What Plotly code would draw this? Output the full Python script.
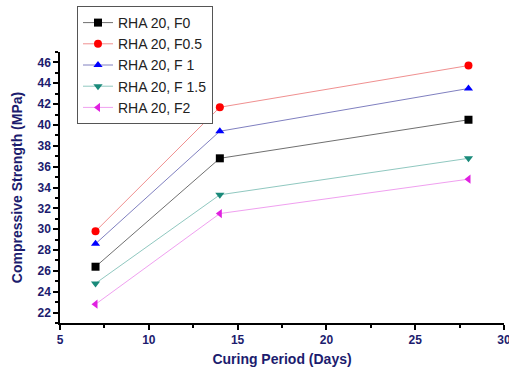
import plotly.graph_objects as go

days = [7, 14, 28]
names = ["RHA 20, F0", "RHA 20, F0.5", "RHA 20, F 1", "RHA 20, F 1.5", "RHA 20, F2"]
f0 = [26.4, 36.8, 40.5]
f05 = [29.8, 41.7, 45.7]
f1 = [28.6, 39.4, 43.5]
f15 = [24.8, 33.3, 36.8]
f2 = [22.8, 31.5, 34.8]
x_ticks = [5, 10, 15, 20, 25, 30]
y_ticks = [22, 24, 26, 28, 30, 32, 34, 36, 38, 40, 42, 44, 46]

series = [f0, f05, f1, f15, f2]
mcolors = ["#000000", "#ff0000", "#0000ff", "#1a8a7a", "#e020e0"]
lcolors = ["#707070", "#f09090", "#8080c0", "#90c8c0", "#f0a0f0"]
symbols = ["square", "circle", "triangle-up", "triangle-down", "triangle-left"]

fig = go.Figure()
for n, v, mc, lc, s in zip(names, series, mcolors, lcolors, symbols):
    fig.add_trace(go.Scatter(
        x=days, y=v, name=n, mode="lines+markers",
        line=dict(color=lc, width=1),
        marker=dict(color=mc, symbol=s, size=8),
    ))

navy = "#1c1c6e"
tfont = dict(size=12, color=navy, family="Arial, Liberation Sans", weight="bold")
L, R, T, B = 60, 5, 52, 44
W, H = 509, 367
pw, ph = W - L - R, H - T - B
fig.update_layout(
    width=W, height=H,
    margin=dict(l=L, r=R, t=T, b=B, autoexpand=False),
    plot_bgcolor="white", paper_bgcolor="white",
    font=dict(family="Arial, Liberation Sans", color=navy),
    showlegend=True,
    legend=dict(
        x=(77 - L) / pw, y=1 + (T - 6) / ph,
        xanchor="left", yanchor="top",
        bordercolor="#555555", borderwidth=1, bgcolor="white",
        font=dict(size=14, color="#222222", family="Arial, Liberation Sans"),
        tracegroupgap=0,
    ),
    xaxis=dict(
        range=[5, 30], tickvals=x_ticks, ticktext=[f"<b>{v}</b>" for v in x_ticks],
        showgrid=False, zeroline=False, ticklabeloverflow="allow",
        showline=True, linecolor="black", linewidth=1.5, automargin=False,
        ticks="outside", ticklen=5, tickwidth=1.5, tickcolor="black",
        tickfont=tfont,
        minor=dict(dtick=2.5, ticks="outside", ticklen=3, tickcolor="black", showgrid=False),
        title=dict(text="<b>Curing Period (Days)</b>", font=dict(size=14, color=navy), standoff=8),
    ),
    yaxis=dict(
        range=[21, 47], tickvals=y_ticks, ticktext=[f"<b>{v}</b>" for v in y_ticks],
        showgrid=False, zeroline=False,
        showline=True, linecolor="black", linewidth=1.5, automargin=False,
        ticks="outside", ticklen=5, tickwidth=1.5, tickcolor="black",
        tickfont=tfont,
        minor=dict(dtick=1, ticks="outside", ticklen=3, tickcolor="black", showgrid=False),
        title=dict(text="<b>Compressive Strength (MPa)</b>", font=dict(size=14, color=navy), standoff=12),
    ),
)
fig.write_html("out.html", config={"displayModeBar": False},
               post_script="document.body.style.margin='0px';")
